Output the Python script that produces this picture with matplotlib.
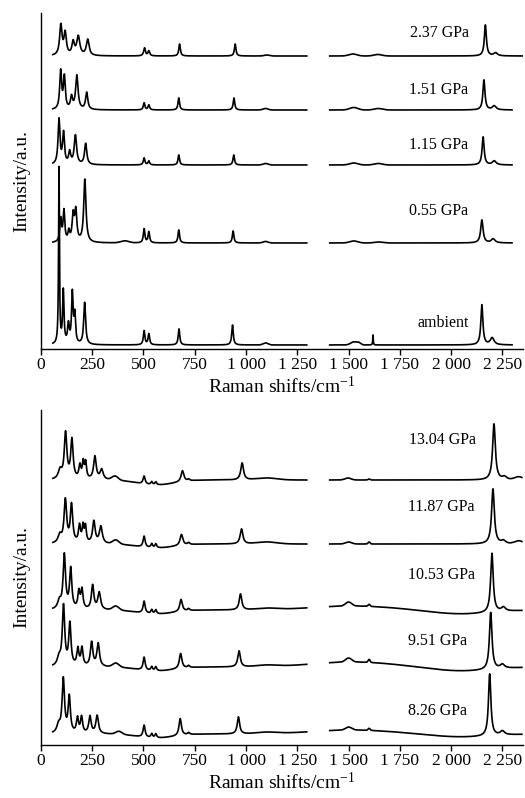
import numpy as np
import matplotlib
matplotlib.use("Agg")
import matplotlib.pyplot as plt

plt.rcParams["font.family"] = ["Liberation Serif", "DejaVu Serif"]
plt.rcParams["mathtext.fontset"] = "custom"
plt.rcParams["mathtext.rm"] = "Liberation Serif"
plt.rcParams["mathtext.it"] = "Liberation Serif:italic"
plt.rcParams["mathtext.default"] = "regular"

# ---------------------------------------------------------------- axis ticks
tick_values = [0, 250, 500, 750, 1000, 1250, 1500, 1750, 2000, 2250]
tick_labels = ["0", "250", "500", "750", "1 000", "1 250",
               "1 500", "1 750", "2 000", "2 250"]

# ------------------------------------------------ measured Raman spectra
# Sharp bands: (centre / cm-1, height / a.u., FWHM / cm-1), Lorentzian
# Broad background features: (centre, height, sigma), Gaussian
low_pressure_labels = ["ambient", "0.55 GPa", "1.15 GPa", "1.51 GPa", "2.37 GPa"]
high_pressure_labels = ["8.26 GPa", "9.51 GPa", "10.53 GPa", "11.87 GPa", "13.04 GPa"]

peaks_ambient = [(88, 176, 5), (109, 53, 8), (134, 19, 10), (153, 50, 9),
                 (165, 28, 9), (213, 42, 11), (503, 14, 9), (526, 11, 9),
                 (673, 16, 9), (934, 20, 9), (1619, 10, 3), (2150, 40, 12),
                 (2200, 7, 22)]
bands_ambient = [(1095, 2, 12), (1525, 3, 15), (1550, 2, 10)]

peaks_055 = [(96, 23, 10), (112, 31, 10), (136, 10, 10), (157, 26, 12),
             (170, 30, 12), (214, 63, 13), (503, 14, 9), (526, 11, 9),
             (672, 13, 9), (937, 12, 9), (2150, 23, 14), (2205, 4, 22)]
bands_055 = [(409, 2, 20), (1095, 1.5, 12), (1525, 2, 20), (1645, 1, 20)]

peaks_115 = [(88, 45, 11), (110, 31, 11), (140, 12, 12), (168, 29, 14),
             (218, 21, 13), (503, 7, 9), (526, 4, 9), (672, 10, 9),
             (940, 10, 9), (2156, 28, 12), (2210, 4, 22)]
bands_115 = [(1095, 1.5, 12), (1525, 2, 20), (1645, 1.5, 20)]

peaks_151 = [(96, 38, 11), (114, 32, 11), (149, 12, 12), (175, 34, 14),
             (223, 17, 13), (503, 7, 9), (526, 5, 9), (672, 12, 9),
             (941, 12, 9), (2160, 30, 12), (2210, 4, 22)]
bands_151 = [(1095, 1.5, 12), (1525, 2.5, 20), (1645, 1.5, 20)]

peaks_237 = [(97, 30, 14), (118, 22, 14), (157, 13, 14), (182, 19, 18),
             (228, 16, 16), (505, 8, 10), (526, 5, 10), (676, 12, 9),
             (947, 12, 9), (2167, 31, 12), (2217, 3, 22)]
bands_237 = [(1100, 1, 12), (1521, 2, 20), (1643, 1.5, 20)]

peaks_826 = [(86, 8, 20), (109, 54, 14), (138, 36, 13), (178, 15, 12),
             (198, 16, 12), (239, 17, 14), (274, 18, 15), (503, 12, 12),
             (540, 4, 10), (560, 4, 10), (679, 17, 14), (720, 2, 12),
             (963, 17, 14), (2188, 62, 14), (2250, 4, 25)]
bands_826 = [(380, 3, 15), (560, -4, 90), (1100, 1.5, 50), (1500, 3, 15),
             (1520, 4, 200), (1600, 2, 5), (2050, -3, 150)]

peaks_951 = [(88, 8, 20), (110, 60, 14), (141, 42, 13), (180, 17, 12),
             (200, 18, 12), (247, 24, 14), (279, 23, 15), (503, 13, 12),
             (540, 4, 10), (560, 4, 10), (681, 15, 15), (720, 2, 12),
             (966, 16, 15), (2193, 57, 15), (2250, 4, 25)]
bands_951 = [(365, 4, 15), (560, -4, 90), (1100, 1.5, 50), (1500, 4, 15),
             (1520, 5, 200), (1600, 3, 5), (2050, -4, 150)]

peaks_1053 = [(90, 8, 20), (114, 54, 14), (145, 40, 13), (185, 17, 12),
              (200, 19, 12), (252, 24, 14), (284, 17, 16), (503, 12, 12),
              (540, 4, 10), (560, 4, 10), (683, 12, 15), (720, 2, 12),
              (973, 16, 15), (2199, 59, 15), (2255, 4, 25)]
bands_1053 = [(365, 4, 15), (560, -4, 90), (1100, 1.5, 50), (1500, 4, 15),
              (1520, 4, 200), (1600, 2, 5), (2050, -4, 150)]

peaks_1187 = [(92, 8, 20), (119, 43, 15), (149, 38, 14), (188, 17, 12),
              (205, 16, 10), (217, 16, 10), (258, 22, 15), (292, 17, 17),
              (503, 11, 12), (540, 4, 10), (560, 4, 10), (685, 11, 16),
              (720, 2, 12), (978, 15, 16), (2204, 55, 16), (2255, 3, 25)]
bands_1187 = [(365, 4, 15), (560, -4, 90), (1100, 2, 50), (1500, 2, 15),
              (1600, 2, 5), (2330, 3, 20)]

peaks_1304 = [(93, 9, 20), (120, 46, 15), (151, 39, 14), (190, 13, 12),
              (206, 16, 10), (218, 16, 10), (263, 23, 15), (296, 10, 18),
              (503, 8, 12), (540, 3, 10), (560, 3, 10), (690, 11, 16),
              (720, 1.5, 12), (981, 17, 16), (2209, 56, 16), (2260, 3, 25)]
bands_1304 = [(361, 4, 15), (560, -5, 90), (1100, 2, 50), (1497, 2, 15),
              (1600, 1, 5), (2330, 3, 20)]

# recorded wavenumber windows (cm-1)
low_window = (58, 1296)
high_window_start = [1408, 1408, 1408, 1408, 1408]
high_window_end_top = [2297, 2297, 2297, 2297, 2350]
high_window_end_bottom = [2345, 2345, 2345, 2345, 2345]

top_peaks = [peaks_ambient, peaks_055, peaks_115, peaks_151, peaks_237]
top_bands = [bands_ambient, bands_055, bands_115, bands_151, bands_237]
bottom_peaks = [peaks_826, peaks_951, peaks_1053, peaks_1187, peaks_1304]
bottom_bands = [bands_826, bands_951, bands_1053, bands_1187, bands_1304]

# vertical stacking offsets and label placement
top_offsets = [4, 106, 184, 239, 293]
bottom_offsets = [11, 78, 135, 201, 265]
top_label_xy = [(2085, 22), (2085, 32), (2085, 20), (2085, 20), (2085, 23)]
bottom_label_xy = [(2075, 23), (2078, 26), (2115, 35), (2115, 37), (2120, 40)]


def spectrum(x, peaks, bands):
    y = np.zeros_like(x)
    for c, h, w in peaks:
        hw = w / 2.0
        y += h * hw ** 2 / ((x - c) ** 2 + hw ** 2)
    for c, h, s in bands:
        y += h * np.exp(-0.5 * ((x - c) / s) ** 2)
    return y


fig = plt.figure(figsize=(5.25, 7.98), dpi=100)

panels = [
    (fig.add_axes([0.078, 0.5627, 0.918, 0.421]), 336, top_peaks, top_bands,
     top_offsets, high_window_end_top, low_pressure_labels, top_label_xy),
    (fig.add_axes([0.078, 0.0664, 0.918, 0.4198]), 335, bottom_peaks, bottom_bands,
     bottom_offsets, high_window_end_bottom, high_pressure_labels, bottom_label_xy),
]

for ax, ytop, peaks_set, bands_set, offsets, ends, labels, label_xy in panels:
    for i in range(5):
        windows = [low_window, (high_window_start[i], ends[i])]
        for lo, hi in windows:
            x = np.arange(lo, hi + 0.25, 0.5)
            y = offsets[i] + spectrum(x, peaks_set[i], bands_set[i])
            ax.plot(x, y, color="black", lw=1.2, solid_joinstyle="round")
        lx, dy = label_xy[i]
        ax.text(lx, offsets[i] + dy, labels[i], ha="right", va="center",
                fontsize=11.5)

    ax.set_xlim(0, 2350)
    ax.set_ylim(0, ytop)
    ax.set_xticks(tick_values, tick_labels)
    ax.set_yticks([])
    for side in ("top", "right"):
        ax.spines[side].set_visible(False)
    for side in ("left", "bottom"):
        ax.spines[side].set_linewidth(1.0)
    ax.tick_params(axis="x", direction="out", length=4, width=1.0,
                   labelsize=12.5, pad=2)
    ax.set_xlabel("Raman shifts/cm$^{-1}$", fontsize=14, labelpad=2)
    ax.set_ylabel("Intensity/a.u.", fontsize=14, labelpad=8)
    ax.patch.set_alpha(0)

fig.savefig("out.png", dpi=100)
